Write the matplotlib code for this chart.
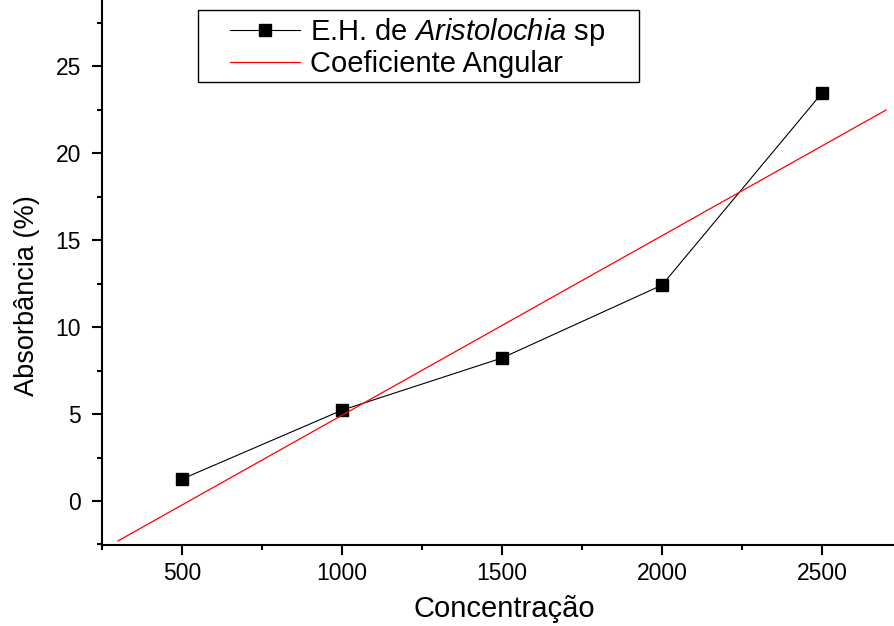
import numpy as np
import matplotlib
matplotlib.use("Agg")
import matplotlib.pyplot as plt
from matplotlib.patches import Rectangle
from matplotlib.ticker import MultipleLocator

plt.rcParams['font.family'] = ['Liberation Sans', 'DejaVu Sans']
plt.rcParams['mathtext.fontset'] = 'custom'
plt.rcParams['mathtext.rm'] = 'Liberation Sans'
plt.rcParams['mathtext.it'] = 'Liberation Sans:italic'

# dados
concentracao = [500, 1000, 1500, 2000, 2500]
absorbancia = [1.26, 5.22, 8.22, 12.41, 23.45]

# reta do coeficiente angular
coef_angular = 0.01032
intercepto = -5.39
reta_x = [300, 2700]

fig = plt.figure(figsize=(8.94, 6.26), dpi=100)
ax = fig.add_axes([102 / 894, 81 / 626, 1 - 102 / 894, 1 - 81 / 626])

ax.plot(concentracao, absorbancia, '-', color='black', lw=0.8,
        marker='s', markersize=8.5, markerfacecolor='black', markeredgecolor='black',
        label='E.H. de $\\mathit{Aristolochia}$ sp')
rx = np.array(reta_x)
ax.plot(rx, coef_angular * rx + intercepto, color='red', lw=0.9, label='Coeficiente Angular')

ax.set_xlim(250, 2725)
ax.set_ylim(-2.53, 28.8)
ax.xaxis.set_major_locator(MultipleLocator(500))
ax.xaxis.set_minor_locator(MultipleLocator(250))
ax.yaxis.set_major_locator(MultipleLocator(5))
ax.yaxis.set_minor_locator(MultipleLocator(2.5))

for s in ['top', 'right']:
    ax.spines[s].set_visible(False)
for s in ['left', 'bottom']:
    ax.spines[s].set_linewidth(1.5)

ax.tick_params(which='major', direction='out', length=7, width=1.5, labelsize=16.5, pad=5)
ax.tick_params(axis='y', which='major', pad=8)
ax.tick_params(which='minor', direction='out', length=3.5, width=1.5)

ax.set_xlabel('Concentração', fontsize=21)
ax.set_ylabel('Absorbância (%)', fontsize=19.5)
# posicoes dos rotulos como no original
ax.xaxis.set_label_coords((504 - 102) / 792, -50 / 545)
ax.yaxis.set_label_coords(-62 / 792, (545 - 296) / 545)

leg = fig.legend(loc='center left', bbox_to_anchor=(230 / 894, 1 - 47 / 626),
                 frameon=False, fontsize=21, handlelength=2.4, handletextpad=0.35,
                 borderpad=0, borderaxespad=0, labelspacing=0.05)

fig.patches.append(Rectangle((198 / 894, 1 - 82 / 626), (639 - 198) / 894, 72 / 626,
                             transform=fig.transFigure, fill=False,
                             edgecolor='black', lw=1.0))

fig.savefig('out.png', dpi=100)
